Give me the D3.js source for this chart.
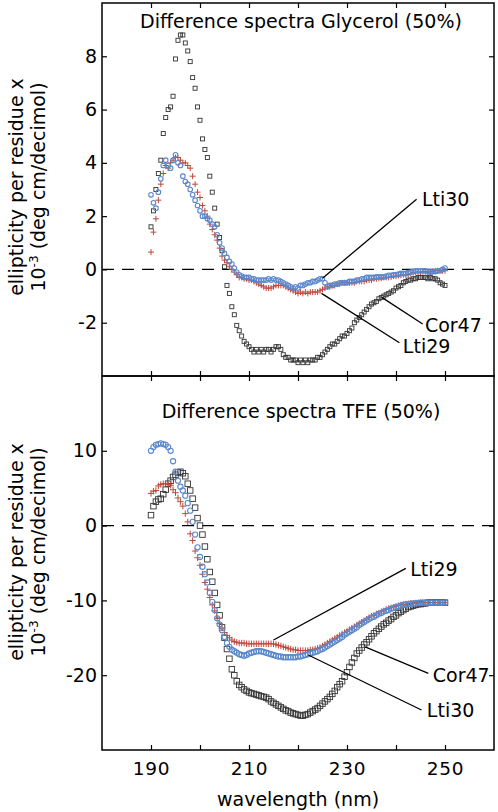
<!DOCTYPE html>
<html>
<head>
<meta charset="utf-8">
<script src="https://cdn.jsdelivr.net/npm/d3@7/dist/d3.min.js"></script>
<style>
  html, body { margin: 0; padding: 0; background: #fff; }
  svg { display: block; }
  text { font-family: "DejaVu Sans", sans-serif; fill: #000; }
</style>
</head>
<body>
<svg id="chart" width="498" height="812"></svg>
<script>
// ---------------- data ----------------
const wlStart = 190, wlEnd = 250, wlStep = 0.5;
const wavelengths = d3.range(wlStart, wlEnd + wlStep / 2, wlStep);

const xTicks = [190, 200, 210, 220, 230, 240, 250];
const xTickLabels = [190, 210, 230, 250];
const topYTicks = [-2, 0, 2, 4, 6, 8];
const botYTicks = [-20, -10, 0, 10];

const panelTitles = ["Difference spectra Glycerol (50%)", "Difference spectra TFE (50%)"];
const seriesNames = ["Cor47", "Lti29", "Lti30"];

// Glycerol panel
const glyCor47 = [
  1.6, 2.2, 3.0, 3.6, 4.1, 5.1, 5.7, 6.0, 6.1, 6.5,
  7.9, 8.6, 8.8, 8.8, 8.5, 8.2, 7.8, 7.2, 6.8, 6.1,
  5.6, 4.9, 4.5, 4.2, 3.5, 2.9, 2.3, 1.7, 1.2, 0.7,
  0.1, -0.6, -0.9, -1.4, -1.7, -2.1, -2.3, -2.5, -2.7, -2.8,
  -2.9, -3.0, -3.1, -3.0, -3.1, -3.0, -3.1, -3.0, -3.0, -3.1,
  -3.0, -2.9, -2.9, -3.0, -3.2, -3.3, -3.3, -3.4, -3.4, -3.4,
  -3.5, -3.4, -3.5, -3.4, -3.5, -3.4, -3.4, -3.4, -3.3, -3.3,
  -3.2, -3.1, -3.0, -2.9, -2.8, -2.8, -2.7, -2.6, -2.5, -2.5,
  -2.4, -2.3, -2.2, -2.0, -1.9, -1.8, -1.7, -1.6, -1.5, -1.4,
  -1.3, -1.25, -1.2, -1.1, -1.05, -1.0, -0.95, -0.9, -0.85, -0.8,
  -0.7, -0.65, -0.6, -0.5, -0.45, -0.4, -0.4, -0.35, -0.35, -0.3,
  -0.3, -0.3, -0.3, -0.35, -0.3, -0.35, -0.35, -0.4, -0.5, -0.55,
  -0.6
];
const glyLti29 = [
  0.65, 1.4, 1.9, 2.6, 3.2, 3.6, 3.9, 3.8, 4.0, 4.1,
  4.2, 4.2, 4.1, 4.0, 4.0, 3.9, 3.8, 3.5, 3.2, 2.9,
  2.7, 2.4, 2.2, 2.0, 1.7, 1.5, 1.3, 1.1, 0.8, 0.5,
  0.35, 0.25, 0.1, 0.0, -0.1, -0.2, -0.3, -0.3, -0.35, -0.35,
  -0.4, -0.4, -0.45, -0.5, -0.55, -0.6, -0.65, -0.7, -0.7, -0.7,
  -0.65, -0.6, -0.6, -0.6, -0.6, -0.65, -0.7, -0.75, -0.8, -0.85,
  -0.9, -0.85, -0.9, -0.85, -0.9, -0.85, -0.85, -0.85, -0.85, -0.8,
  -0.75, -0.7, -0.65, -0.65, -0.6, -0.6, -0.55, -0.55, -0.5, -0.5,
  -0.5, -0.5, -0.5, -0.5, -0.45, -0.45, -0.45, -0.45, -0.4, -0.4,
  -0.4, -0.35, -0.35, -0.33, -0.33, -0.3, -0.3, -0.3, -0.28, -0.25,
  -0.25, -0.22, -0.22, -0.2, -0.2, -0.18, -0.15, -0.12, -0.1, -0.1,
  -0.1, -0.08, -0.08, -0.1, -0.1, -0.08, -0.05, -0.05, -0.05, -0.05,
  -0.05
];
const glyLti30 = [
  2.8, 2.5, 2.3, 2.9, 3.4, 3.9, 4.1, 3.9, 3.8, 4.1,
  4.3, 4.0, 3.9, 3.5, 3.3, 3.2, 3.0, 2.8, 2.6, 2.4,
  2.2, 2.0, 2.0, 1.9, 1.85, 1.7, 1.6, 1.3, 1.0, 0.8,
  0.6, 0.45, 0.3, 0.2, 0.05, -0.1, -0.2, -0.25, -0.3, -0.3,
  -0.3, -0.35, -0.35, -0.4, -0.4, -0.4, -0.4, -0.4, -0.35, -0.4,
  -0.35, -0.4, -0.4, -0.45, -0.5, -0.55, -0.6, -0.65, -0.7, -0.65,
  -0.7, -0.6, -0.6, -0.55, -0.5, -0.5, -0.45, -0.45, -0.4, -0.35,
  -0.35, -0.5, -0.65, -0.6, -0.6, -0.55, -0.55, -0.5, -0.5, -0.5,
  -0.5, -0.45, -0.45, -0.45, -0.4, -0.4, -0.35, -0.35, -0.3, -0.3,
  -0.3, -0.3, -0.28, -0.28, -0.28, -0.28, -0.25, -0.22, -0.22, -0.2,
  -0.2, -0.18, -0.15, -0.15, -0.15, -0.12, -0.1, -0.08, -0.05, -0.05,
  -0.05, -0.05, -0.05, -0.08, -0.1, -0.08, -0.08, -0.05, -0.05, 0.0,
  0.05
];

// TFE panel
const tfeCor47 = [
  1.4, 2.6, 3.2, 3.5, 3.6, 4.2, 4.8, 5.6, 6.0, 6.5,
  6.8, 7.1, 7.2, 7.0, 6.6, 5.6, 4.7, 3.6, 2.4, 1.0,
  0.0, -1.2, -2.8, -4.5, -6.2, -7.5, -9.0, -10.6, -12.0, -13.6,
  -15.0, -16.5, -17.8, -19.2, -20.0, -20.8, -21.3, -21.6, -21.9, -22.1,
  -22.3, -22.4, -22.5, -22.6, -22.7, -22.8, -22.9, -23.0, -23.2, -23.5,
  -23.7, -23.9, -24.1, -24.3, -24.5, -24.7, -24.8, -25.0, -25.1, -25.2,
  -25.3, -25.4, -25.4, -25.3, -25.2, -25.0, -24.8, -24.6, -24.4, -24.1,
  -23.8, -23.5, -23.2, -22.9, -22.5, -22.1, -21.6, -21.2, -20.8, -20.2,
  -19.6, -18.9, -18.3, -17.7, -17.1, -16.7, -16.3, -15.9, -15.6, -15.2,
  -14.8, -14.4, -14.1, -13.8, -13.5, -13.2, -13.0, -12.7, -12.5, -12.2,
  -12.0, -11.7, -11.5, -11.3, -11.1, -10.9, -10.8, -10.7, -10.6, -10.5,
  -10.5, -10.4, -10.4, -10.3, -10.3, -10.3, -10.3, -10.3, -10.3, -10.3,
  -10.3
];
const tfeLti29 = [
  4.3, 4.6, 4.7, 5.3, 5.5, 5.6, 5.6, 5.5, 5.4, 4.8,
  4.4, 3.7, 3.2, 2.6, 1.6, 0.5, -1.1, -2.0, -3.4, -4.3,
  -5.3, -6.5, -7.6, -8.5, -9.6, -10.6, -11.4, -12.4, -13.1, -13.7,
  -14.3, -14.7, -15.0, -15.3, -15.5, -15.6, -15.7, -15.7, -15.7, -15.8,
  -15.8, -15.8, -15.8, -15.8, -15.8, -15.8, -15.8, -15.8, -15.8, -15.8,
  -15.8, -15.9, -16.0, -16.1, -16.2, -16.3, -16.4, -16.5, -16.6, -16.6,
  -16.7, -16.7, -16.7, -16.7, -16.7, -16.6, -16.6, -16.5, -16.4, -16.3,
  -16.1, -15.9, -15.7, -15.5, -15.3, -15.1, -14.9, -14.7, -14.5, -14.3,
  -14.1, -13.9, -13.7, -13.5, -13.3, -13.1, -12.9, -12.7, -12.5, -12.3,
  -12.1, -12.0, -11.8, -11.7, -11.5, -11.4, -11.2, -11.1, -11.0, -10.9,
  -10.8, -10.7, -10.6, -10.55, -10.5, -10.45, -10.4, -10.4, -10.35, -10.35,
  -10.3, -10.3, -10.3, -10.3, -10.3, -10.3, -10.3, -10.3, -10.3, -10.3,
  -10.3
];
const tfeLti30 = [
  10.0, 10.5, 10.8, 10.9, 11.0, 10.9, 10.8, 10.5, 10.0, 8.6,
  7.2, 6.0, 5.2, 4.7, 4.0, 3.0, 2.0, 0.5, -1.2, -2.9,
  -4.2, -5.5, -6.5, -7.6, -9.0, -10.2, -11.3, -12.4, -13.2, -14.0,
  -14.9, -15.7, -16.2, -16.6, -16.8, -17.0, -17.2, -17.3, -17.4, -17.3,
  -17.1, -17.0, -16.9, -16.8, -16.8, -16.8, -16.9, -17.0, -17.1, -17.2,
  -17.3, -17.4, -17.5, -17.5, -17.6, -17.6, -17.6, -17.6, -17.6, -17.6,
  -17.5, -17.5, -17.4, -17.3, -17.2, -17.1, -17.0, -16.9, -16.8, -16.6,
  -16.5, -16.3, -16.1, -15.9, -15.7, -15.5, -15.3, -15.1, -14.9, -14.6,
  -14.4, -14.2, -14.0, -13.8, -13.6, -13.3, -13.1, -12.9, -12.7, -12.5,
  -12.3, -12.2, -12.0, -11.8, -11.7, -11.5, -11.4, -11.3, -11.1, -11.0,
  -10.9, -10.8, -10.7, -10.6, -10.55, -10.5, -10.45, -10.4, -10.4, -10.35,
  -10.3, -10.3, -10.3, -10.3, -10.3, -10.3, -10.3, -10.3, -10.3, -10.3,
  -10.3
];

// annotation leaders in data units: [label, labelX, labelY, fromX, fromY, toX, toY]
const topNotes = [
  ["Lti30", 245.3, 2.38, 244.2, 2.63, 225.0, -0.33],
  ["Cor47", 245.9, -2.35, 245.45, -2.05, 237.1, -1.05],
  ["Lti29", 241.4, -3.14, 240.7, -2.75, 224.8, -0.9]
];
const botNotes = [
  ["Lti29", 242.9, -6.74, 242.0, -5.71, 215.0, -15.3],
  ["Cor47", 247.5, -20.9, 246.6, -19.75, 233.7, -16.2],
  ["Lti30", 246.3, -25.6, 245.2, -24.65, 222.1, -17.3]
];

// ---------------- layout ----------------
const svg = d3.select("#chart");
const left = 102, right = 494;
const x = d3.scaleLinear().domain([180, 260]).range([left, right]);

const panels = [
  { top: 3, bottom: 376, domain: [-4, 10], ticks: topYTicks, title: panelTitles[0], titleY: 28,
    series: [glyCor47, glyLti29, glyLti30], notes: topNotes, labelCY: 187, sq: 4, pl: 3, cr: 2.3 },
  { top: 376, bottom: 750, domain: [-30, 20], ticks: botYTicks, title: panelTitles[1], titleY: 418,
    series: [tfeCor47, tfeLti29, tfeLti30], notes: botNotes, labelCY: 552, sq: 5.5, pl: 3.2, cr: 2.6 }
];

const colBlack = "#333", colRed = "#c0473a", colBlue = "#5a88cc";

panels.forEach((p, pi) => {
  const y = d3.scaleLinear().domain(p.domain).range([p.bottom, p.top]);
  const g = svg.append("g");

  // zero dashed line
  g.append("line")
    .attr("x1", x.range()[0]).attr("x2", x.range()[1])
    .attr("y1", y(0)).attr("y2", y(0))
    .attr("stroke", "#000").attr("stroke-width", 1.2)
    .attr("stroke-dasharray", "12,8");

  const pts = s => wavelengths.map((w, i) => [w, s[i]]);

  // Cor47: open squares
  g.append("g").selectAll("rect").data(pts(p.series[0])).join("rect")
    .attr("x", d => x(d[0]) - p.sq / 2).attr("y", d => y(d[1]) - p.sq / 2)
    .attr("width", p.sq).attr("height", p.sq)
    .attr("fill", "none").attr("stroke", colBlack).attr("stroke-width", 0.9);

  // Lti29: plus signs
  g.append("g").selectAll("path").data(pts(p.series[1])).join("path")
    .attr("d", d => {
      const cx = x(d[0]), cy = y(d[1]), r = p.pl;
      return `M${cx - r},${cy}H${cx + r}M${cx},${cy - r}V${cy + r}`;
    })
    .attr("stroke", colRed).attr("stroke-width", 1).attr("fill", "none");

  // Lti30: open circles
  g.append("g").selectAll("circle").data(pts(p.series[2])).join("circle")
    .attr("cx", d => x(d[0])).attr("cy", d => y(d[1])).attr("r", p.cr)
    .attr("fill", "none").attr("stroke", colBlue).attr("stroke-width", 1.1);

  // axes (ticks inward)
  const ax = g.append("g").attr("class", "axes");
  ax.append("g").attr("transform", `translate(${left},0)`)
    .call(d3.axisLeft(y).tickValues(p.ticks).tickSize(-5).tickSizeOuter(0).tickPadding(5).tickFormat(d => String(d)))
    .call(s => s.select(".domain").remove())
    .call(s => s.selectAll("text").style("font-size", "19px").attr("font-family", "DejaVu Sans"));
  ax.append("g").attr("transform", `translate(${right},0)`)
    .call(d3.axisRight(y).tickValues(p.ticks).tickSize(-5).tickSizeOuter(0).tickFormat(""))
    .call(s => s.select(".domain").remove());
  ax.append("g").attr("transform", `translate(0,${p.top})`)
    .call(d3.axisTop(x).tickValues(xTicks).tickSize(-5).tickSizeOuter(0).tickFormat(""))
    .call(s => s.select(".domain").remove());
  ax.append("g").attr("transform", `translate(0,${p.bottom})`)
    .call(d3.axisBottom(x).tickValues(xTicks).tickSize(-5).tickSizeOuter(0).tickPadding(11.5)
      .tickFormat(d => (pi === 1 && xTickLabels.includes(d)) ? String(d) : ""))
    .call(s => s.select(".domain").remove())
    .call(s => s.selectAll("text").style("font-size", "18.5px").style("letter-spacing", "0.8px").attr("font-family", "DejaVu Sans"));
  ax.selectAll(".tick line").attr("stroke", "#000").attr("stroke-width", 1.2);

  // frame
  g.append("rect").attr("x", left).attr("y", p.top)
    .attr("width", right - left).attr("height", p.bottom - p.top)
    .attr("fill", "none").attr("stroke", "#000").attr("stroke-width", 1.5);

  // title
  g.append("text").attr("x", 301).attr("y", p.titleY)
    .attr("text-anchor", "middle").style("font-size", "19px").text(p.title);

  // y label
  const yl = g.append("g").attr("transform", `translate(0,${p.labelCY})`);
  yl.append("text").attr("transform", "translate(23,0) rotate(-90)")
    .attr("text-anchor", "middle").style("font-size", "19px").text("ellipticity per residue x");
  const t2 = yl.append("text").attr("transform", "translate(45,0) rotate(-90)")
    .attr("text-anchor", "middle").style("font-size", "19px");
  t2.append("tspan").text("10");
  t2.append("tspan").attr("baseline-shift", "super").style("font-size", "12px").text("-3");
  t2.append("tspan").text(" (deg cm/decimol)");

  // annotations
  p.notes.forEach(n => {
    g.append("line")
      .attr("x1", x(n[3])).attr("y1", y(n[4]))
      .attr("x2", x(n[5])).attr("y2", y(n[6]))
      .attr("stroke", "#000").attr("stroke-width", 1.3);
    g.append("text").attr("x", x(n[1])).attr("y", y(n[2]))
      .style("font-size", "19px").text(n[0]);
  });
});

// x-axis title
svg.append("text").attr("x", 298).attr("y", 806)
  .attr("text-anchor", "middle").style("font-size", "19px").text("wavelength (nm)");
</script>
</body>
</html>
